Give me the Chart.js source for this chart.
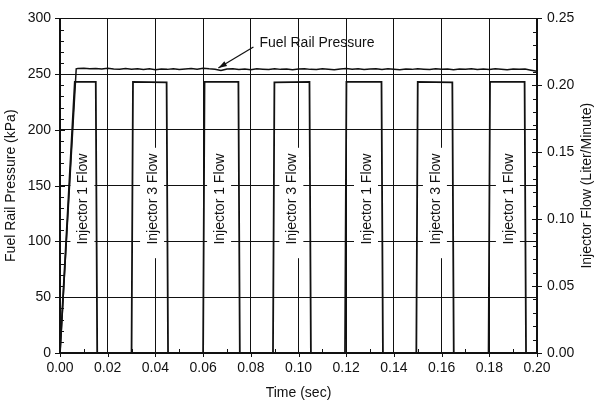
<!DOCTYPE html>
<html>
<head>
<meta charset="utf-8">
<script src="https://cdn.jsdelivr.net/npm/chart.js@4.4.1/dist/chart.umd.min.js"></script>
<style>
  html, body { margin: 0; padding: 0; background: #fff; }
  canvas { display: block; }
</style>
</head>
<body>
<canvas id="chart" width="595" height="403"></canvas>
<script>
// Fuel rail pressure trace (kPa)
const pressureTime = [
  0, 0.0068,
  0.0075, 0.0100, 0.0125, 0.0150, 0.0175, 0.0200, 0.0225, 0.0250, 0.0275, 0.0300,
  0.0325, 0.0350, 0.0375, 0.0400, 0.0425, 0.0450, 0.0475, 0.0500, 0.0525, 0.0550,
  0.0575, 0.0600, 0.0625, 0.0650, 0.0675, 0.0700, 0.0725, 0.0750, 0.0775, 0.0800,
  0.0825, 0.0850, 0.0875, 0.0900, 0.0925, 0.0950, 0.0975, 0.1000, 0.1025, 0.1050,
  0.1075, 0.1100, 0.1125, 0.1150, 0.1175, 0.1200, 0.1225, 0.1250, 0.1275, 0.1300,
  0.1325, 0.1350, 0.1375, 0.1400, 0.1425, 0.1450, 0.1475, 0.1500, 0.1525, 0.1550,
  0.1575, 0.1600, 0.1625, 0.1650, 0.1675, 0.1700, 0.1725, 0.1750, 0.1775, 0.1800,
  0.1825, 0.1850, 0.1875, 0.1900, 0.1925, 0.1950, 0.1975, 0.2000
];
const pressureKPa = [
  0, 254.8,
  255.0, 255.2, 254.9, 255.1, 254.7, 255.3, 254.6, 254.4, 255.0, 254.5,
  254.9, 254.2, 254.8, 254.0, 254.6, 254.3, 254.9, 254.1, 254.7, 255.0,
  254.4, 255.3, 254.8, 254.5, 253.2, 254.6, 254.9, 254.2, 254.7, 254.0,
  254.8, 254.5, 254.2, 254.9, 254.3, 254.7, 254.0, 254.6, 254.9, 254.3,
  254.1, 254.8, 254.5, 254.0, 254.7, 255.1, 254.4, 254.9, 254.2, 254.6,
  254.9, 254.1, 254.8, 254.4, 254.0, 254.7, 254.3, 254.9, 254.5, 254.1,
  254.8, 254.3, 254.6, 254.0, 254.7, 254.4, 254.9, 254.2, 254.6, 254.1,
  254.8, 254.5, 254.0, 254.7, 254.3, 254.6, 253.6, 252.6
];

// Injector flow pulses (Liter/Minute)
const flowTime = [
  0, 0.0062, 0.0150, 0.0156,
  0.0300, 0.0306, 0.0447, 0.0453,
  0.0600, 0.0606, 0.0748, 0.0754,
  0.0893, 0.0899, 0.1046, 0.1052,
  0.1195, 0.1201, 0.1348, 0.1354,
  0.1494, 0.1500, 0.1645, 0.1651,
  0.1797, 0.1803, 0.1948, 0.1954,
  0.2000
];
const flowRate = [
  0, 0.2025, 0.2025, 0,
  0, 0.2025, 0.2022, 0,
  0, 0.2025, 0.2025, 0,
  0, 0.2022, 0.2025, 0,
  0, 0.2025, 0.2025, 0,
  0, 0.2025, 0.2022, 0,
  0, 0.2025, 0.2025, 0,
  0
];

const pulseLabels = ["Injector 1 Flow", "Injector 3 Flow", "Injector 1 Flow", "Injector 3 Flow",
                     "Injector 1 Flow", "Injector 3 Flow", "Injector 1 Flow"];
const pulseLabelTime = [0.0094, 0.0386, 0.0667, 0.0970, 0.1283, 0.1572, 0.1878];

const xTicks = [0, 0.02, 0.04, 0.06, 0.08, 0.10, 0.12, 0.14, 0.16, 0.18, 0.20];
const pressureTicks = [0, 50, 100, 150, 200, 250, 300];
const flowTicks = [0, 0.05, 0.10, 0.15, 0.20, 0.25];

const FONT = "'Liberation Sans', Arial, sans-serif";
const INK = "#111";

// label boxes over the grid, arrow note, minor ticks, right title
const decor = {
  id: "decor",
  beforeDatasetsDraw(chart) {
    const {ctx, scales: {x, y}} = chart;
    ctx.save();
    ctx.font = "14px " + FONT;
    ctx.fillStyle = INK;
    ctx.textAlign = "center";
    ctx.textBaseline = "middle";
    const top = y.getPixelForValue(184), bot = y.getPixelForValue(85);
    const mid = y.getPixelForValue(138);
    pulseLabelTime.forEach((t, i) => {
      const px = x.getPixelForValue(t);
      ctx.fillStyle = "#fff";
      ctx.fillRect(px - 12, top, 24, bot - top);
      ctx.fillStyle = INK;
      ctx.save();
      ctx.translate(px, mid);
      ctx.rotate(-Math.PI / 2);
      ctx.fillText(pulseLabels[i], 0, 1);
      ctx.restore();
    });
    ctx.restore();
  },
  afterDraw(chart) {
    const {ctx, chartArea: a, scales: {x, y, y1}} = chart;
    ctx.save();
    ctx.strokeStyle = INK;
    ctx.lineWidth = 1;
    ctx.beginPath();
    for (let v = 10; v < 300; v += 10) {
      const py = Math.round(y.getPixelForValue(v)) + 0.5;
      if (v % 50) { ctx.moveTo(a.left, py); ctx.lineTo(a.left + 4, py); }
    }
    pressureTicks.forEach(v => {
      const py = Math.round(y.getPixelForValue(v)) + 0.5;
      ctx.moveTo(a.left - 5, py); ctx.lineTo(a.left + 5, py);
    });
    for (let k = 1; k < 25; k++) {
      const py = Math.round(y1.getPixelForValue(k / 100)) + 0.5;
      if (k % 5) { ctx.moveTo(a.right - 4, py); ctx.lineTo(a.right, py); }
    }
    flowTicks.forEach(v => {
      const py = Math.round(y1.getPixelForValue(v)) + 0.5;
      ctx.moveTo(a.right - 5, py); ctx.lineTo(a.right + 5, py);
    });
    for (let k = 1; k < 20; k += 2) {
      const px = Math.round(x.getPixelForValue(k / 100)) + 0.5;
      ctx.moveTo(px, a.bottom); ctx.lineTo(px, a.bottom - 4);
    }
    xTicks.forEach(v => {
      const px = Math.round(x.getPixelForValue(v)) + 0.5;
      ctx.moveTo(px, a.bottom); ctx.lineTo(px, a.bottom + 4);
    });
    ctx.stroke();

    // "Fuel Rail Pressure" note with arrow
    const tx = x.getPixelForValue(0.0811), ty = y.getPixelForValue(274.4);
    const hx = x.getPixelForValue(0.0664), hy = y.getPixelForValue(255.5);
    ctx.lineWidth = 1.2;
    ctx.beginPath();
    ctx.moveTo(tx, ty);
    ctx.lineTo(hx, hy);
    ctx.stroke();
    const ang = Math.atan2(hy - ty, hx - tx);
    ctx.fillStyle = INK;
    ctx.beginPath();
    ctx.moveTo(hx, hy);
    ctx.lineTo(hx - 9 * Math.cos(ang - 0.3), hy - 9 * Math.sin(ang - 0.3));
    ctx.lineTo(hx - 9 * Math.cos(ang + 0.3), hy - 9 * Math.sin(ang + 0.3));
    ctx.closePath();
    ctx.fill();
    ctx.font = "14px " + FONT;
    ctx.textAlign = "left";
    ctx.textBaseline = "middle";
    ctx.fillText("Fuel Rail Pressure", x.getPixelForValue(0.0836), y.getPixelForValue(277.7));

    // right axis title, reading upward
    ctx.save();
    ctx.translate(587, (a.top + a.bottom) / 2);
    ctx.rotate(-Math.PI / 2);
    ctx.textAlign = "center";
    ctx.fillText("Injector Flow (Liter/Minute)", 0, 0);
    ctx.restore();
    ctx.restore();
  }
};

const tickFont = {family: FONT, size: 14};

new Chart(document.getElementById("chart"), {
  type: "line",
  data: {
    datasets: [
      {
        label: "Fuel Rail Pressure",
        data: pressureTime.map((t, i) => ({x: t, y: pressureKPa[i]})),
        yAxisID: "y",
        borderColor: INK,
        borderWidth: 1.5,
        pointRadius: 0,
        tension: 0
      },
      {
        label: "Injector Flow",
        data: flowTime.map((t, i) => ({x: t, y: flowRate[i]})),
        yAxisID: "y1",
        borderColor: INK,
        borderWidth: 1.8,
        pointRadius: 0,
        tension: 0
      }
    ]
  },
  options: {
    responsive: false,
    animation: false,
    layout: {padding: {top: 17, bottom: 0, left: 0, right: 0}},
    plugins: {legend: {display: false}, tooltip: {enabled: false}},
    scales: {
      x: {
        type: "linear",
        min: 0,
        max: 0.2,
        afterBuildTicks: s => { s.ticks = xTicks.map(v => ({value: v})); },
        ticks: {color: INK, font: tickFont, padding: 7, maxRotation: 0,
                callback: v => v.toFixed(2)},
        grid: {color: INK, lineWidth: 1, drawTicks: false},
        border: {color: INK, width: 1.5},
        title: {display: true, text: "Time (sec)", color: INK, font: tickFont, padding: {top: 0, bottom: 1}},
        afterFit: s => { s.height = 50; }
      },
      y: {
        position: "left",
        min: 0,
        max: 300,
        afterBuildTicks: s => { s.ticks = pressureTicks.map(v => ({value: v})); },
        ticks: {color: INK, font: tickFont, padding: 9},
        grid: {color: INK, lineWidth: 1, drawTicks: false},
        border: {color: INK, width: 1.5},
        title: {display: true, text: "Fuel Rail Pressure (kPa)", color: INK, font: tickFont, padding: {top: 3}},
        afterFit: s => { s.width = 60; }
      },
      y1: {
        position: "right",
        min: 0,
        max: 0.25,
        afterBuildTicks: s => { s.ticks = flowTicks.map(v => ({value: v})); },
        ticks: {color: INK, font: tickFont, padding: 10, callback: v => v.toFixed(2)},
        grid: {drawOnChartArea: false, drawTicks: false},
        border: {color: INK, width: 1.5},
        afterFit: s => { s.width = 58; }
      }
    }
  },
  plugins: [decor]
});
</script>
</body>
</html>
